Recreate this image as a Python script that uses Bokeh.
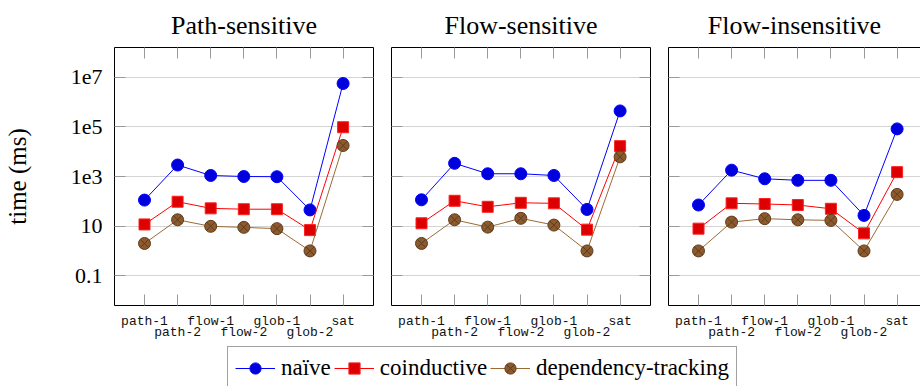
from bokeh.plotting import figure
from bokeh.models import (FixedTicker, LinearAxis, LogAxis, Range1d, Legend,
                          LegendItem, ColumnDataSource)
from bokeh.layouts import row, column
from bokeh.embed import file_html
from bokeh.resources import INLINE

# ---------------- data ----------------
categories = ["path-1", "path-2", "flow-1", "flow-2", "glob-1", "glob-2", "sat"]
panel_titles = ["Path-sensitive", "Flow-sensitive", "Flow-insensitive"]
series_names = ["naïve", "coinductive", "dependency-tracking"]

naive_path = [112, 2900, 1100, 1000, 980, 45, 5.6e6]
coind_path = [11.7, 96, 52, 48, 48, 6.9, 9.7e4]
dep_path = [2.0, 18, 9.8, 8.9, 7.9, 1.0, 1.78e4]

naive_flow = [115, 3400, 1290, 1290, 1100, 47, 4.4e5]
coind_flow = [13, 105, 60, 87, 83, 7.2, 1.67e4]
dep_flow = [2.0, 18, 9.1, 20.6, 11, 1.0, 6200]

naive_insens = [71, 1800, 810, 700, 700, 27, 8.3e4]
coind_insens = [7.9, 83, 78, 71, 50, 5.1, 1500]
dep_insens = [1.0, 14.5, 20, 18, 17, 1.0, 190]

y_ticks = [0.1, 10, 1e3, 1e5, 1e7]
y_tick_labels = ["0.1", "10", "1e3", "1e5", "1e7"]

panel_data = [
    [naive_path, coind_path, dep_path],
    [naive_flow, coind_flow, dep_flow],
    [naive_insens, coind_insens, dep_insens],
]

# ---------------- styles ----------------
SERIF = "Liberation Serif"
TICKFONT = "Liberation Mono"
styles = [
    dict(line="#0000ff", fill="#0000dd", edge="#0000ff", marker="circle", size=12),
    dict(line="#ff0000", fill="#dd0000", edge="#ff2020", marker="square", size=11),
    dict(line="#9a6a35", fill="#8c5a2c", edge="#5e3c1c", marker="circle_x", size=12),
]
TICK_COLOR = "#999999"
GRID_COLOR = "#d4d4d4"
UNIT = 33.1          # pixels per category
FRAME_H = 258
Y_RANGE = (10 ** -2.2, 10 ** 8.2)

xs = list(range(len(categories)))
even_labels = {i: (c if i % 2 == 0 else "") for i, c in enumerate(categories)}
odd_labels = {i: c for i, c in enumerate(categories) if i % 2 == 1}
ytick_over = {t: l for t, l in zip(y_ticks, y_tick_labels)}
ytick_blank = {t: "" for t in y_ticks}
xtick_blank = {i: "" for i in xs}


def make_panel(k, frame_w, mb_left, mb_right, first, right_axis):
    x_start = -30.0 / UNIT
    x_end = x_start + frame_w / UNIT
    p = figure(frame_width=frame_w, frame_height=FRAME_H, y_axis_type="log",
               x_range=Range1d(x_start, x_end), y_range=Range1d(*Y_RANGE),
               output_backend="svg", toolbar_location=None,
               min_border_left=mb_left, min_border_right=mb_right,
               min_border_top=47, min_border_bottom=35,
               outline_line_color=None, background_fill_color="white",
               border_fill_color="white")
    xa = p.below[0]
    ya = p.left[0]

    p.title.text = panel_titles[k]
    p.title.align = "center"
    p.title.text_font = SERIF
    p.title.text_font_size = "26px"
    p.title.text_font_style = "normal"
    p.title.text_color = "black"
    p.title.standoff = 15
    if frame_w != 259:
        # centre over the full (clipped) panel width, as in the reference
        p.title.offset = (259 - frame_w) / 2

    p.xgrid.visible = False
    p.ygrid.ticker = FixedTicker(ticks=y_ticks)
    p.ygrid.grid_line_color = GRID_COLOR
    p.ygrid.grid_line_width = 1

    # y axis (left)
    ya.ticker = FixedTicker(ticks=y_ticks)
    ya.major_tick_in = 11
    ya.major_tick_out = 0
    ya.minor_tick_line_color = None
    ya.major_tick_line_color = TICK_COLOR
    ya.axis_line_color = "black"
    if first:
        ya.major_label_overrides = ytick_over
        ya.major_label_text_font = SERIF
        ya.major_label_text_font_size = "22px"
        ya.major_label_text_color = "black"
        ya.major_label_standoff = 12
        ya.axis_label = "time (ms)"
        ya.axis_label_text_font = SERIF
        ya.axis_label_text_font_size = "25px"
        ya.axis_label_text_font_style = "normal"
        ya.axis_label_text_color = "black"
        ya.axis_label_standoff = 37
    else:
        ya.major_label_overrides = ytick_blank
        ya.major_label_standoff = 0

    if right_axis:
        ra = LogAxis(ticker=FixedTicker(ticks=y_ticks), major_tick_in=11,
                     major_tick_out=0, minor_tick_line_color=None,
                     major_tick_line_color=TICK_COLOR, axis_line_color="black",
                     major_label_overrides=ytick_blank, major_label_standoff=0)
        p.add_layout(ra, "right")

    # top axis (ticks only)
    ta = LinearAxis(ticker=FixedTicker(ticks=xs), major_tick_in=11,
                    major_tick_out=0, minor_tick_line_color=None,
                    major_tick_line_color=TICK_COLOR, axis_line_color="black",
                    major_label_overrides=xtick_blank, major_label_standoff=0)
    p.add_layout(ta, "above")

    # bottom axis: row 1 labels
    xa.ticker = FixedTicker(ticks=xs)
    xa.major_label_overrides = even_labels
    xa.major_tick_in = 11
    xa.major_tick_out = 0
    xa.minor_tick_line_color = None
    xa.major_tick_line_color = TICK_COLOR
    xa.axis_line_color = "black"
    xa.major_label_text_font = TICKFONT
    xa.major_label_text_font_size = "13px"
    xa.major_label_text_color = "#111111"
    xa.major_label_standoff = 8

    # bottom axis: row 2 labels
    xb = LinearAxis(ticker=FixedTicker(ticks=[i for i in xs if i % 2 == 1]),
                    major_label_overrides=odd_labels,
                    major_tick_in=0, major_tick_out=0,
                    minor_tick_line_color=None, major_tick_line_color=None,
                    axis_line_color=None,
                    major_label_text_font=TICKFONT,
                    major_label_text_font_size="13px",
                    major_label_text_color="#111111",
                    major_label_standoff=-7)
    p.add_layout(xb, "below")

    for vals, st in zip(panel_data[k], styles):
        src = ColumnDataSource(dict(x=xs, y=vals))
        p.line("x", "y", source=src, line_color=st["line"], line_width=1)
        p.scatter("x", "y", source=src, marker=st["marker"], size=st["size"],
                  fill_color=st["fill"], line_color=st["edge"], line_width=1)
    return p


p1 = make_panel(0, 259, 114, 9, True, True)
p2 = make_panel(1, 259, 9, 9, False, True)
p3 = make_panel(2, 252, 9, 0, False, False)

# ---------------- legend strip ----------------
leg = figure(width=920, height=46, x_range=Range1d(0, 1), y_range=Range1d(0, 1),
             output_backend="svg", toolbar_location=None, min_border=0,
             outline_line_color=None, x_axis_location=None, y_axis_location=None)
leg.grid.visible = False
items = []
for name, st, vals in zip(series_names, styles, panel_data[0]):
    src = ColumnDataSource(dict(x=xs, y=vals))
    lr = leg.line("x", "y", source=src, line_color=st["line"], line_width=1,
                  visible=False)
    sr = leg.scatter("x", "y", source=src, marker=st["marker"], size=st["size"],
                     fill_color=st["fill"], line_color=st["edge"], line_width=1,
                     visible=False)
    items.append(LegendItem(label=name, renderers=[lr, sr]))
legend = Legend(items=items, orientation="horizontal", location=(227, -2),
                glyph_width=40, glyph_height=28, label_standoff=6, spacing=3,
                padding=7, margin=0, border_line_color="#444444",
                border_line_width=1, label_text_font=SERIF,
                label_text_font_size="23px", label_text_color="black",
                background_fill_color="white", background_fill_alpha=1,
                inactive_fill_alpha=0)
leg.add_layout(legend)

layout = column(row(p1, p2, p3), leg)
open("out.html", "w").write(file_html(layout, INLINE))
